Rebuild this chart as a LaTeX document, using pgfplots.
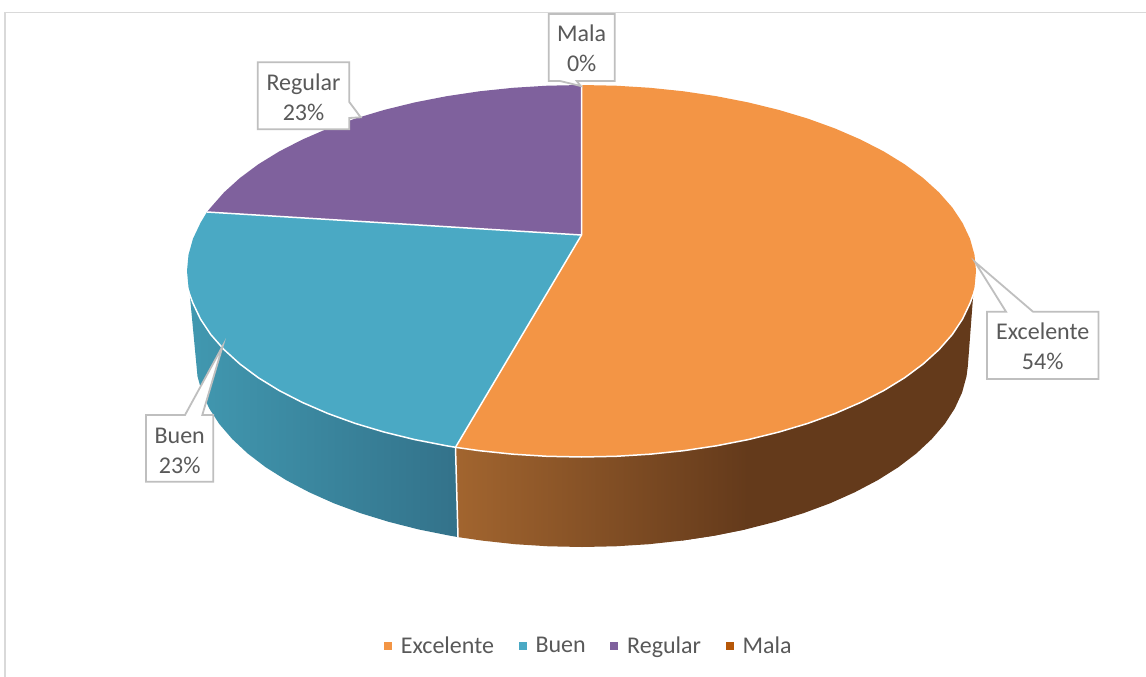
\documentclass[border=0pt]{standalone}
\usepackage{fontspec}
\setmainfont{Carlito}
\usepackage{pgfplots}
\pgfplotsset{compat=1.18}

\definecolor{topExc}{HTML}{F39545}
\definecolor{topBuen}{HTML}{4AA9C4}
\definecolor{topReg}{HTML}{7F619D}
\definecolor{topMala}{HTML}{B65708}
\definecolor{sideExcL}{HTML}{A2652F}
\definecolor{sideExcR}{HTML}{643A1B}
\definecolor{sideBuenL}{HTML}{4198B0}
\definecolor{sideBuenR}{HTML}{33728A}
\definecolor{txt}{HTML}{595959}
\definecolor{callout}{HTML}{BFBFBF}
\definecolor{frame}{HTML}{D9D9D9}

\tikzset{lab/.style={text=txt, align=center, font=\fontsize{24}{30}\selectfont}}

\begin{document}
\begin{tikzpicture}
\begin{axis}[
    scale only axis,
    width=1146pt,
    height=677pt,
    xmin=0, xmax=1146,
    ymin=0, ymax=677,
    y dir=reverse,
    axis lines=none,
    legend columns=-1,
    legend cell align=left,
    legend image code/.code={\path[#1,draw=none] (0pt,-4pt) rectangle (8pt,4pt);},
    legend style={
        at={(axis cs:588.7,646)}, anchor=center,
        draw=none, fill=none,
        text=txt,
        font=\fontsize{24}{28}\selectfont,
        /tikz/every even column/.append style={column sep=22.5pt},
        /tikz/every odd column/.append style={column sep=7pt},
    },
    callout/.style={forget plot, fill=white, draw=callout, line width=1.8pt, line join=miter},
    edge/.style={forget plot, draw=white, line width=1.5pt, line join=round},
]
% page background and chart frame
\addplot[forget plot, fill=white, draw=none] coordinates {(0,0) (1146,0) (1146,677) (0,677)} --cycle;
\addplot[forget plot, draw=frame, line width=1.3pt] coordinates {(1146,12.5) (5,12.5) (5,677)};

% side of Excelente: dark part first, gradient over it
\addplot[forget plot, fill=sideExcR, draw=none] coordinates {
    (683.6,450.7) (716.4,445.8) (748.2,439.6)
    (778.75,432.1) (807.8,423.4) (835.1,413.5) (860.5,402.5) (883.7,390.6) (904.7,377.7)
    (923.1,364.0) (939.0,349.6) (952.2,334.6) (962.5,319.1) (970.0,303.3) (973.2,295)
    (967.8,366.5) (966.5,376.3) (962.1,392.5) (954.8,408.4) (944.7,424.0) (931.8,439.0)
    (916.3,453.5) (898.2,467.3) (877.7,480.2) (854.9,492.2) (830.1,503.3) (803.4,513.2)
    (775.0,521.9) (745.1,529.5) (714.0,535.7) (681.9,540.6)
} --cycle;
\addplot[forget plot, draw=none, left color=sideExcL, right color=sideExcR] coordinates {
    (455.5,447.3) (479.4,450.7) (513.0,454.2) (547.1,456.3) (581.5,457.0) (615.9,456.3)
    (650.0,454.2) (683.6,450.7) (716.4,445.8) (748.2,439.6)
    (745.1,529.5) (714.0,535.7) (681.9,540.6) (649.0,544.2) (615.7,546.3) (582,547)
    (548.3,546.3) (515.0,544.2) (482.1,540.6) (458,537.1)
} --cycle;

% side of Buen
\addplot[forget plot, draw=none, left color=sideBuenL, right color=sideBuenR] coordinates {
    (189.8,295) (193.0,303.3) (200.5,319.1) (210.8,334.6) (224.0,349.6) (239.9,364.0)
    (258.3,377.7) (279.3,390.6) (302.5,402.5) (327.9,413.5) (355.2,423.4) (384.25,432.1)
    (414.8,439.6) (446.6,445.8) (455.5,447.3)
    (458,537.1) (450,535.7) (418.9,529.5) (389.0,521.9) (360.6,513.2) (333.9,503.3)
    (309.1,492.2) (286.3,480.2) (265.8,467.3) (247.7,453.5) (232.2,439.0) (219.3,424.0)
    (209.2,408.4) (201.9,392.5) (197.5,376.3)
} --cycle;
\addplot[edge] coordinates {(455.5,447.3) (458,537.1)};

% top face, one polygon per slice
\addplot[fill=topExc, draw=none] coordinates {
    (581.5,235) (581.5,85) (615.9,85.7) (650.0,87.8) (683.6,91.3) (716.4,96.2) (748.2,102.4)
    (778.75,109.9) (807.8,118.6) (835.1,128.5) (860.5,139.5) (883.7,151.4) (904.7,164.3)
    (923.1,178.0) (939.0,192.4) (952.2,207.4) (962.5,222.9) (970.0,238.7) (974.5,254.8)
    (976.0,271.0) (974.5,287.2) (970.0,303.3) (962.5,319.1) (952.2,334.6) (939.0,349.6)
    (923.1,364.0) (904.7,377.7) (883.7,390.6) (860.5,402.5) (835.1,413.5) (807.8,423.4)
    (778.75,432.1) (748.2,439.6) (716.4,445.8) (683.6,450.7) (650.0,454.2) (615.9,456.3)
    (581.5,457.0) (547.1,456.3) (513.0,454.2) (479.4,450.7) (455.5,447.3)
} --cycle;
\addlegendentry{Excelente}
\addplot[fill=topBuen, draw=none] coordinates {
    (581.5,235) (455.5,447.3) (446.6,445.8) (414.8,439.6) (384.25,432.1) (355.2,423.4)
    (327.9,413.5) (302.5,402.5) (279.3,390.6) (258.3,377.7) (239.9,364.0) (224.0,349.6)
    (210.8,334.6) (200.5,319.1) (193.0,303.3) (188.5,287.2) (187.0,271.0) (188.5,254.8)
    (193.0,238.7) (200.5,222.9) (207,212)
} --cycle;
\addlegendentry{Buen}
\addplot[fill=topReg, draw=none] coordinates {
    (581.5,235) (207,212) (210.8,207.4) (224.0,192.4) (239.9,178.0) (258.3,164.3)
    (279.3,151.4) (302.5,139.5) (327.9,128.5) (355.2,118.6) (384.25,109.9) (414.8,102.4)
    (446.6,96.2) (479.4,91.3) (513.0,87.8) (547.1,85.7) (581.5,85)
} --cycle;
\addlegendentry{Regular}
% 0 %: the slice has no width
\addplot[fill=topMala, draw=none] coordinates {(581.5,235) (581.5,85)} --cycle;
\addlegendentry{Mala}

% white edges of the top face
\addplot[edge] coordinates {(581.5,85) (581.5,235) (455.5,447.3)};
\addplot[edge] coordinates {(207,212) (581.5,235)};
\addplot[edge] coordinates {
    (973.2,295) (970.0,303.3) (962.5,319.1) (952.2,334.6) (939.0,349.6)
    (923.1,364.0) (904.7,377.7) (883.7,390.6) (860.5,402.5) (835.1,413.5) (807.8,423.4)
    (778.75,432.1) (748.2,439.6) (716.4,445.8) (683.6,450.7) (650.0,454.2) (615.9,456.3)
    (581.5,457.0) (547.1,456.3) (513.0,454.2) (479.4,450.7) (455.5,447.3)
    (446.6,445.8) (414.8,439.6) (384.25,432.1) (355.2,423.4)
    (327.9,413.5) (302.5,402.5) (279.3,390.6) (258.3,377.7) (239.9,364.0) (224.0,349.6)
    (210.8,334.6) (200.5,319.1) (193.0,303.3) (189.8,295)
};

% callouts
\addplot[callout] coordinates {(987,311.7) (1006,311.7) (975,262) (1033,311.7) (1098.5,311.7) (1098.5,379) (987,379)} --cycle;
\addplot[callout] coordinates {(146,415) (185,415) (222.7,346) (202.3,415) (213.3,415) (213.3,481.7) (146,481.7)} --cycle;
\addplot[callout] coordinates {(257.7,62.3) (349.3,62.3) (349.3,102) (360.7,117.3) (349.3,118) (349.3,129.3) (257.7,129.3)} --cycle;
\addplot[callout] coordinates {(548.7,14) (614.7,14) (614.7,81) (576.7,81) (580.7,86) (560,81) (548.7,81)} --cycle;

\node[lab] at (axis cs:1042.7,346) {Excelente\\54\%};
\node[lab] at (axis cs:179.7,450.5) {Buen\\23\%};
\node[lab] at (axis cs:303.5,97.5) {Regular\\23\%};
\node[lab] at (axis cs:581.7,48.5) {Mala\\0\%};
\end{axis}
\end{tikzpicture}
\end{document}
